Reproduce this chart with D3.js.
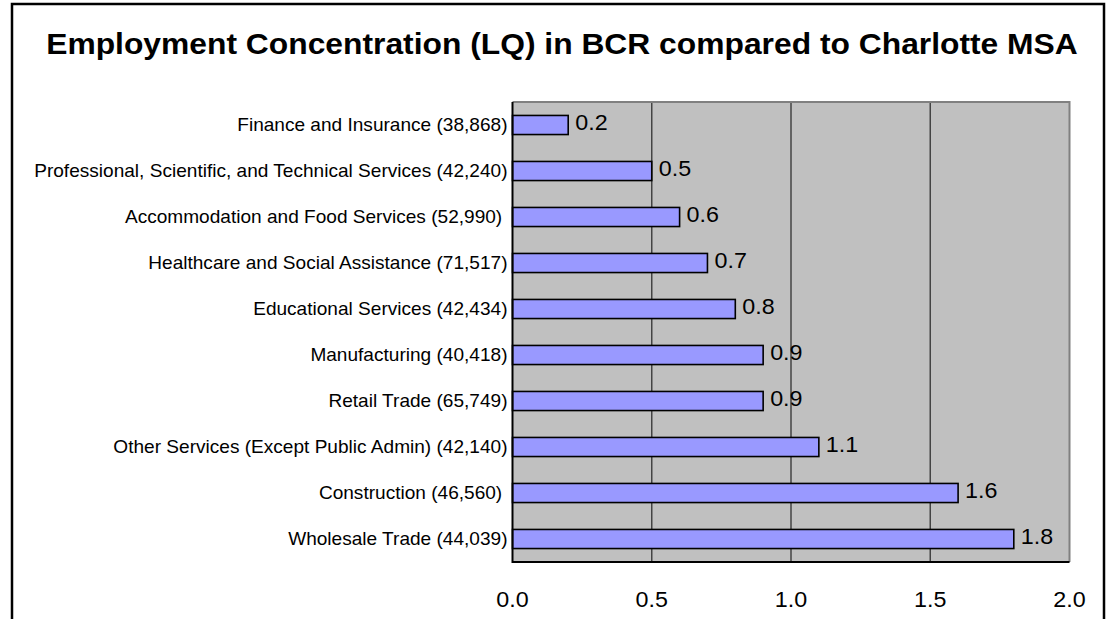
<!DOCTYPE html>
<html><head><meta charset="utf-8">
<script src="https://cdn.jsdelivr.net/npm/d3@7"></script>
<style>html,body{margin:0;padding:0;background:#fff;}svg{display:block;font-family:Arial,"Liberation Sans",sans-serif;}</style>
</head><body>
<script>
const categories = [
  "Finance and Insurance (38,868)",
  "Professional, Scientific, and Technical Services (42,240)",
  "Accommodation and Food Services (52,990) ",
  "Healthcare and Social Assistance (71,517)",
  "Educational Services (42,434)",
  "Manufacturing (40,418)",
  "Retail Trade (65,749)",
  "Other Services (Except Public Admin) (42,140)",
  "Construction (46,560) ",
  "Wholesale Trade (44,039)"
];
const values = [0.2, 0.5, 0.6, 0.7, 0.8, 0.9, 0.9, 1.1, 1.6, 1.8];
const valueLabels = ["0.2","0.5","0.6","0.7","0.8","0.9","0.9","1.1","1.6","1.8"];
const xTicks = [0, 0.5, 1.0, 1.5, 2.0];
const title = "Employment Concentration (LQ) in BCR compared to Charlotte MSA";

const W = 1107, H = 619;
const SX = 1.06; // horizontal text stretch seen in the reference
const svg = d3.select("body").append("svg").attr("width", W).attr("height", H);

// outer frame (no bottom edge visible)
svg.append("path").attr("d", `M12,${H+5} L12,4 L1104,4 L1104,${H+5}`)
  .attr("fill", "none").attr("stroke", "#000").attr("stroke-width", 2.5);

svg.append("text").attr("transform", `translate(562,54) scale(${SX},1)`).attr("text-anchor", "middle")
  .attr("font-size", 30).attr("font-weight", "bold").attr("fill", "#000").text(title);

const L = 512.5, R = 1069.5, T = 102, B = 562;
const x = d3.scaleLinear().domain([0, 2]).range([L, R]);
const y = d3.scaleBand().domain(categories).range([T, B]).paddingInner(0.585).paddingOuter(0.2925);

svg.append("rect").attr("x", L).attr("y", T).attr("width", R - L).attr("height", B - T).attr("fill", "#C0C0C0");

// gridlines
svg.append("g").selectAll("line").data(xTicks.filter(d => d > 0 && d < 2)).join("line")
  .attr("x1", d => x(d)).attr("x2", d => x(d)).attr("y1", T).attr("y2", B)
  .attr("stroke", "#444").attr("stroke-width", 1.5);

// top and right border
svg.append("path").attr("d", `M${L},${T} L${R},${T} L${R},${B}`).attr("fill", "none")
  .attr("stroke", "#808080").attr("stroke-width", 2);

// bars
svg.append("g").selectAll("rect").data(values).join("rect")
  .attr("x", x(0)).attr("y", (d, i) => y(categories[i]))
  .attr("width", d => x(d) - x(0)).attr("height", y.bandwidth())
  .attr("fill", "#9999FF").attr("stroke", "#000").attr("stroke-width", 1.6);

// value labels
svg.append("g").selectAll("text").data(values).join("text")
  .attr("transform", (d, i) => `translate(${x(d) + 7},${y(categories[i]) + y.bandwidth() / 2 + 5}) scale(${SX},1)`)
  .attr("font-size", 22).attr("fill", "#000").text((d, i) => valueLabels[i]);

// left and bottom axis lines
svg.append("path").attr("d", `M${L},${T} L${L},${B} L${R},${B}`).attr("fill", "none")
  .attr("stroke", "#000").attr("stroke-width", 2);

// category labels
svg.append("g").selectAll("text").data(categories).join("text")
  .attr("transform", d => `translate(${L - 5},${y(d) + y.bandwidth() / 2 + 5.5}) scale(${SX},1)`)
  .attr("text-anchor", "end").attr("font-size", 18).attr("fill", "#000")
  .style("white-space", "pre").text(d => d);

// x tick labels
svg.append("g").selectAll("text").data(xTicks).join("text")
  .attr("transform", d => `translate(${x(d)},607) scale(${SX},1)`).attr("text-anchor", "middle")
  .attr("font-size", 22).attr("fill", "#000").text(d => d3.format(".1f")(d));
</script>
</body></html>
